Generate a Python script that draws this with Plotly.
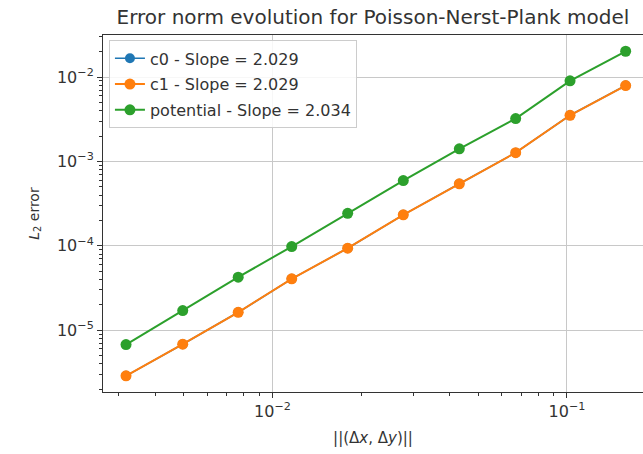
import plotly.graph_objects as go

# Mesh size ||(dx, dy)|| for each refinement level
mesh_size = [0.003181, 0.004956, 0.007647, 0.01162, 0.01800,
             0.02780, 0.04309, 0.06695, 0.1024, 0.1582]

# L2 errors per unknown
err_c0 = [2.88e-6, 6.83e-6, 1.63e-5, 4.06e-5, 9.37e-5,
          2.33e-4, 5.43e-4, 1.27e-3, 3.52e-3, 7.92e-3]
err_c1 = [2.88e-6, 6.83e-6, 1.63e-5, 4.06e-5, 9.37e-5,
          2.33e-4, 5.43e-4, 1.27e-3, 3.52e-3, 7.92e-3]
err_potential = [6.77e-6, 1.71e-5, 4.25e-5, 9.81e-5, 2.43e-4,
                 5.94e-4, 1.41e-3, 3.22e-3, 9.02e-3, 2.02e-2]

series_names = ["c0 - Slope = 2.029", "c1 - Slope = 2.029", "potential - Slope = 2.034"]
series_colors = ["#1f77b4", "#ff7f0e", "#2ca02c"]

x_tick_vals = [1e-2, 1e-1]
x_tick_text = ["10<sup>−2</sup>", "10<sup>−1</sup>"]
y_tick_vals = [1e-5, 1e-4, 1e-3, 1e-2]
y_tick_text = ["10<sup>−5</sup>", "10<sup>−4</sup>", "10<sup>−3</sup>", "10<sup>−2</sup>"]

font_family = "DejaVu Sans"
text_color = "#333333"


def minor_vals(lo_exp, hi_exp):
    vals = []
    for e in range(lo_exp, hi_exp + 1):
        for m in range(2, 10):
            vals.append(m * 10.0 ** e)
    return vals


fig = go.Figure()
# c0 sits underneath c1 (identical errors); drawn a touch thinner so its
# anti-aliased edge does not bleed around the orange curve
line_widths = [1.6, 2, 2]
marker_sizes = [10, 11, 11]
for i, (ys, name, color) in enumerate(zip([err_c0, err_c1, err_potential],
                                          series_names, series_colors)):
    fig.add_trace(go.Scatter(
        x=mesh_size, y=ys, name=name, mode="lines+markers",
        legendgroup=f"g{i}",
        line=dict(color=color, width=line_widths[i]),
        marker=dict(color=color, size=marker_sizes[i]),
    ))

axis_common = dict(
    type="log",
    showline=True, linecolor="#333333", linewidth=1,
    ticks="outside", ticklen=5, tickwidth=1, tickcolor="#333333",
    showgrid=True, gridcolor="#c8c8c8", gridwidth=1,
    zeroline=False,
    tickfont=dict(family=font_family, size=16, color=text_color),
)

fig.update_layout(
    width=643, height=454,
    margin=dict(l=103, r=0, t=35, b=62),
    paper_bgcolor="white", plot_bgcolor="white",
    font=dict(family=font_family, size=14, color=text_color),
    title=dict(
        text="Error norm evolution for Poisson-Nerst-Plank model",
        x=0.58, xanchor="center", y=0.962, yanchor="middle",
        font=dict(family=font_family, size=20, color=text_color),
    ),
    xaxis=dict(
        **axis_common,
        range=[-2.5756, -0.7419],
        mirror=True,
        tickmode="array", tickvals=x_tick_vals, ticktext=x_tick_text,
        minor=dict(tickmode="array", tickvals=minor_vals(-3, -1),
                   ticks="outside", ticklen=3, tickcolor="#333333", showgrid=False),
        title=dict(text="||(Δ<i>x</i>, Δ<i>y</i>)||", standoff=12,
                   font=dict(family=font_family, size=15, color=text_color)),
    ),
    yaxis=dict(
        **axis_common,
        range=[-5.732, -1.502],
        mirror=False,
        tickmode="array", tickvals=y_tick_vals, ticktext=y_tick_text,
        minor=dict(tickmode="array", tickvals=minor_vals(-6, -2),
                   ticks="outside", ticklen=3, tickcolor="#333333", showgrid=False),
        title=dict(text="<i>L</i><sub>2</sub> error", standoff=14,
                   font=dict(family=font_family, size=14, color=text_color)),
    ),
    legend=dict(
        x=0.011, y=0.985, xanchor="left", yanchor="top",
        bgcolor="rgba(255,255,255,0.85)", bordercolor="#cccccc", borderwidth=1,
        font=dict(family=font_family, size=16, color=text_color),
        tracegroupgap=2, itemwidth=30,
    ),
    showlegend=True,
)

fig.write_html("out.html")
